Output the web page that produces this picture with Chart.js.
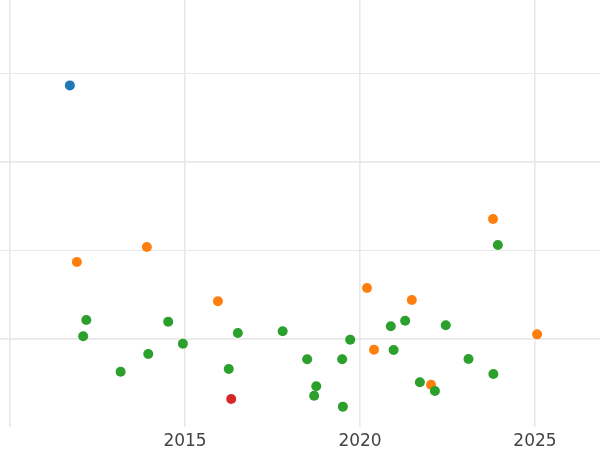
<!DOCTYPE html>
<html>
<head>
<meta charset="utf-8">
<script src="https://cdn.jsdelivr.net/npm/chart.js@4/dist/chart.umd.min.js"></script>
<style>
html,body{margin:0;padding:0;background:#fff;}
#wrap{width:600px;height:450px;}
</style>
</head>
<body>
<div id="wrap"><canvas id="c" width="600" height="450"></canvas></div>
<script>
// point values (x = year, y = value)
var blueX=[2011.71];
var blueY=[2.86];
var orangeX=[2011.91,2013.91,2015.94,2020.2,2020.4,2021.48,2022.03,2023.8,2025.06];
var orangeY=[0.864,1.034,0.42,0.571,-0.127,0.435,-0.522,1.35,0.047];
var greenX=[2012.09,2012.18,2013.16,2013.95,2014.52,2014.94,2016.25,2016.51,2017.79,
	2018.49,2018.69,2018.75,2019.49,2019.51,2019.72,2020.88,2020.96,2021.29,2021.71,
	2022.14,2022.45,2023.1,2023.81,2023.94];
var greenY=[0.025,0.209,-0.375,-0.175,0.19,-0.059,-0.345,0.062,0.081,
	-0.235,-0.646,-0.54,-0.235,-0.77,-0.013,0.138,-0.13,0.201,-0.495,
	-0.593,0.149,-0.232,-0.401,1.056];
var redX=[2016.32];
var redY=[-0.684];
var xTicks=[2010,2015,2020,2025];
var yTicks=[-1,0,1,2,3];

function pts(xs,ys) {
	var out=[];
	for (var i=0; i<xs.length; i++) out.push({x:xs[i], y:ys[i]});
	return out;
}
function ds(xs,ys,col) {
	return {data:pts(xs,ys), backgroundColor:col, borderWidth:0, pointRadius:5, pointHoverRadius:5, clip:false};
}

window.onload=function() {
	new Chart(document.getElementById('c').getContext('2d'), {
		type:'scatter',
		data:{datasets:[
			ds(redX,redY,'#d62728'),
			ds(greenX,greenY,'#2ca02c'),
			ds(orangeX,orangeY,'#ff7f0e'),
			ds(blueX,blueY,'#1f77b4')
		]},
		options:{
			responsive:false,
			animation:false,
			layout:{padding:0, autoPadding:false},
			plugins:{legend:{display:false}, tooltip:{enabled:false}},
			scales:{
				x:{
					type:'linear', min:2009.714, max:2026.857,
					afterBuildTicks:function(ax){ ax.ticks=xTicks.map(function(v){return {value:v};}); },
					afterFit:function(ax){ ax.height=23; },
					border:{display:false},
					grid:{color:'#e8e8e8', lineWidth:1.6, drawTicks:false},
					ticks:{
						padding:4, color:'#444',
						font:{family:'DejaVu Sans', size:17},
						maxRotation:0,
						callback:function(v){ return v==2010 ? '' : String(v); }
					}
				},
				y:{
					type:'linear', min:-1, max:3.825,
					afterBuildTicks:function(ax){ ax.ticks=yTicks.map(function(v){return {value:v};}); },
					afterFit:function(ax){ ax.width=0; },
					border:{display:false},
					grid:{
						color:'#e8e8e8', drawTicks:false,
						lineWidth:function(ctx){
							var v=ctx.tick ? ctx.tick.value : 0;
							if (v==-1) return 0;
							return (v==0 || v==2) ? 1.8 : 1;
						}
					},
					ticks:{display:false}
				}
			}
		}
	});
}
</script>
</body>
</html>
